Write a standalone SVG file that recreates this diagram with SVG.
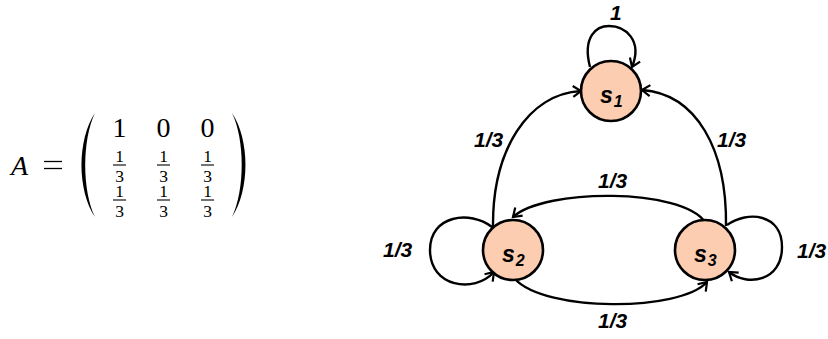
<svg xmlns="http://www.w3.org/2000/svg" width="828" height="339" viewBox="0 0 828 339">
  <style>
    .edge { fill: none; stroke: #000; stroke-width: 2.4; }
    .node { fill: #FCCDB0; stroke: #000; stroke-width: 2.6; }
    .lbl { font-family: "Liberation Sans", Arial, sans-serif; font-weight: bold; font-style: italic; font-size: 21px; fill: #000; }
    .nlbl { font-family: "Liberation Sans", Arial, sans-serif; font-weight: bold; font-style: italic; font-size: 23px; fill: #000; }
    .sub { font-size: 16px; }
    .m { font-family: "Liberation Serif", "Times New Roman", serif; fill: #000; }
    .big { font-size: 28px; }
    .frac { font-size: 17.5px; }
    .bar { stroke: #000; stroke-width: 1.1; }
  </style>
  <defs>
    <marker id="arrow" markerUnits="userSpaceOnUse" markerWidth="16" markerHeight="16" viewBox="-10 -8 12 16" refX="0" refY="0" orient="auto">
      <path d="M -8 -5.5 L 0 0 L -8 5.5" fill="none" stroke="#000" stroke-width="2.2" stroke-linejoin="miter"/>
    </marker>
  </defs>

  <rect width="828" height="339" fill="#fff"/>

  <!-- transition matrix -->
  <g id="matrix">
    <text class="m big" x="11" y="175" font-style="italic">A</text>
    <line x1="44" y1="161.5" x2="62" y2="161.5" stroke="#000" stroke-width="1.3"/>
    <line x1="44" y1="168.5" x2="62" y2="168.5" stroke="#000" stroke-width="1.3"/>
    <path d="M 95 113 C 77 140, 77 190, 95 217 C 82 190, 82 140, 95 113 Z" fill="#000"/>
    <path d="M 232 113 C 250 140, 250 190, 232 217 C 245 190, 245 140, 232 113 Z" fill="#000"/>
    <g text-anchor="middle">
      <text class="m big" x="119.5" y="137">1</text>
      <text class="m big" x="163.5" y="137">0</text>
      <text class="m big" x="207.5" y="137">0</text>

      <text class="m frac" x="119.5" y="162">1</text>
      <text class="m frac" x="163.5" y="162">1</text>
      <text class="m frac" x="207.5" y="162">1</text>
      <line class="bar" x1="113" y1="165" x2="126" y2="165"/>
      <line class="bar" x1="157" y1="165" x2="170" y2="165"/>
      <line class="bar" x1="201" y1="165" x2="214" y2="165"/>
      <text class="m frac" x="119.5" y="182">3</text>
      <text class="m frac" x="163.5" y="182">3</text>
      <text class="m frac" x="207.5" y="182">3</text>

      <text class="m frac" x="119.5" y="197">1</text>
      <text class="m frac" x="163.5" y="197">1</text>
      <text class="m frac" x="207.5" y="197">1</text>
      <line class="bar" x1="113" y1="200" x2="126" y2="200"/>
      <line class="bar" x1="157" y1="200" x2="170" y2="200"/>
      <line class="bar" x1="201" y1="200" x2="214" y2="200"/>
      <text class="m frac" x="119.5" y="217">3</text>
      <text class="m frac" x="163.5" y="217">3</text>
      <text class="m frac" x="207.5" y="217">3</text>
    </g>
  </g>

  <!-- transitions -->
  <g id="connectors">
    <path class="edge" marker-end="url(#arrow)" d="M 590 67 C 582 36, 597 26, 609 26 C 625 26, 643 40, 632 67"/>
    <path class="edge" marker-end="url(#arrow)" d="M 493 228 C 492 150, 528 94, 581 91"/>
    <path class="edge" marker-end="url(#arrow)" d="M 726 226 C 727 150, 697 94, 642 90"/>
    <path class="edge" marker-end="url(#arrow)" d="M 705 222 C 682 188, 545 188, 513 217"/>
    <path class="edge" marker-end="url(#arrow)" d="M 515 279 C 545 312, 680 312, 707 282"/>
    <path class="edge" marker-end="url(#arrow)" d="M 492 227 C 470 210, 430 215, 430 250 C 430 287, 474 294, 494 272"/>
    <path class="edge" marker-end="url(#arrow)" d="M 727 225 C 748 210, 782 214, 782 247 C 782 281, 748 287, 729 272"/>
  </g>

  <!-- transition probabilities -->
  <g id="edge-labels">
    <text class="lbl" x="610" y="20">1</text>
    <text class="lbl" x="474" y="147">1/3</text>
    <text class="lbl" x="717" y="147">1/3</text>
    <text class="lbl" x="598" y="188">1/3</text>
    <text class="lbl" x="598" y="328">1/3</text>
    <text class="lbl" x="383" y="257">1/3</text>
    <text class="lbl" x="797" y="258">1/3</text>
  </g>

  <g id="s1">
    <circle class="node" cx="611" cy="91" r="30"/>
    <text class="nlbl" x="600" y="103">s<tspan class="sub" dx="1" dy="4">1</tspan></text>
  </g>
  <g id="s2">
    <circle class="node" cx="513" cy="250" r="30"/>
    <text class="nlbl" x="502" y="262">s<tspan class="sub" dx="1" dy="4">2</tspan></text>
  </g>
  <g id="s3">
    <circle class="node" cx="705" cy="250" r="30"/>
    <text class="nlbl" x="694" y="262">s<tspan class="sub" dx="1" dy="4">3</tspan></text>
  </g>
</svg>
